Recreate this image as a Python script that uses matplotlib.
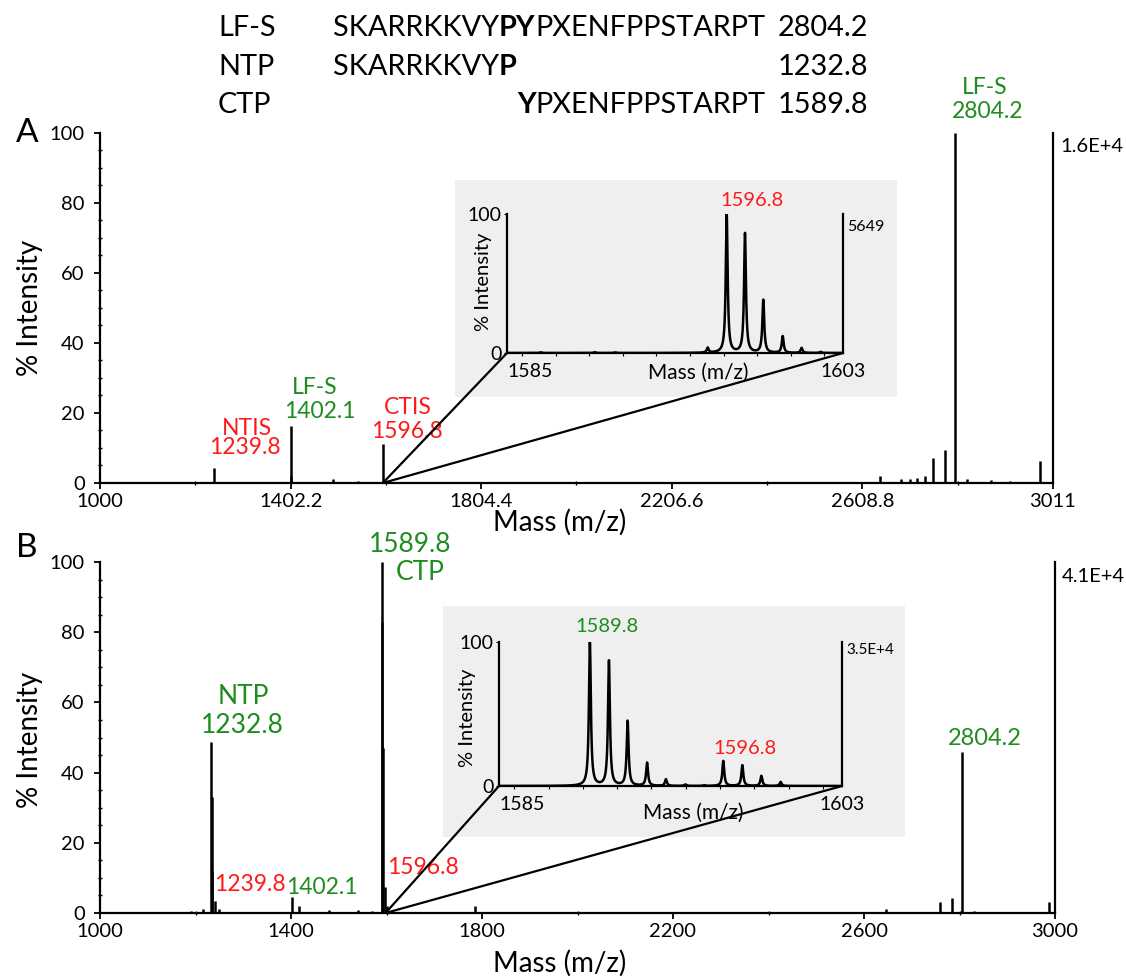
import numpy as np
import matplotlib
matplotlib.use("Agg")
import matplotlib.pyplot as plt
from matplotlib.patches import Rectangle, ConnectionPatch
from matplotlib.ticker import MultipleLocator, FixedLocator

plt.rcParams['font.family'] = ['Lato', 'DejaVu Sans']

# ---------------- data ----------------
# Panel A (main spectrum, stick peaks: m/z, % intensity)
a_mz = [1190, 1239.8, 1300, 1402.1, 1404, 1492, 1545, 1596.8, 1650, 1750, 1900,
        2100, 2300, 2500, 2646, 2690, 2710, 2725, 2741, 2758, 2784, 2804.2,
        2830, 2880, 2920, 2984]
a_int = [0.4, 4.4, 0.3, 16.4, 2.0, 1.0, 0.5, 11.0, 0.4, 0.4, 0.3,
         0.3, 0.3, 0.4, 2.0, 1.0, 1.2, 1.5, 2.0, 7.0, 9.4, 100,
         1.0, 0.8, 0.7, 6.4]
a_xticks = [1000, 1402.2, 1804.4, 2206.6, 2608.8, 3011]
a_xticklabels = ["1000", "1402.2", "1804.4", "2206.6", "2608.8", "3011"]

# Panel B
b_mz = [1190, 1216, 1232.8, 1233.8, 1234.8, 1239.8, 1250, 1300, 1402.1, 1416,
        1480, 1540, 1570, 1589.8, 1590.8, 1591.8, 1596.8, 1600, 1785, 2000,
        2400, 2646, 2759, 2785, 2804.2, 2830, 2987]
b_int = [0.5, 1.0, 48.7, 33.0, 12.0, 3.5, 1.0, 0.4, 4.5, 2.0,
         0.8, 0.8, 0.6, 100, 83, 47, 7.5, 2.0, 2.0, 0.3,
         0.3, 1.0, 3.0, 4.4, 45.8, 0.6, 3.0]
b_xticks = [1000, 1400, 1800, 2200, 2600, 3000]
b_xticklabels = ["1000", "1400", "1800", "2200", "2600", "3000"]

# Insets (isotope clusters)
ia_mz = [1586.8, 1589.7, 1590.8, 1595.75, 1596.77, 1597.75, 1598.73, 1599.77, 1600.78, 1601.8]
ia_int = [0.5, 0.6, 0.5, 3.6, 100, 86, 38, 12, 3.6, 0.8]
ib_mz = [1589.77, 1590.77, 1591.75, 1592.77, 1593.76, 1594.78, 1595.77, 1596.77,
         1597.77, 1598.77, 1599.78]
ib_int = [100, 86.8, 45, 16, 4.6, 1.0, 0.5, 17.4, 14.4, 7.0, 2.8]
inset_range = [1585, 1603]
zoom_from_a = 1596.8
zoom_from_b = 1598.0

GREEN = '#1e8c1e'
RED = '#ff1a1a'

W, H = 1126, 980
fig = plt.figure(figsize=(W / 100, H / 100), dpi=100)


def fx(px):
    return px / W


def fy(py):
    return 1 - py / H


def rect(l, t, r, b):
    return [fx(l), fy(b), fx(r) - fx(l), fy(t) - fy(b)]


def ftext(x, y, s, **kw):
    kw.setdefault('ha', 'center')
    kw.setdefault('va', 'center')
    return fig.text(fx(x), fy(y), s, **kw)


def style_main(ax, xlim, xticks, xticklabels, xminor):
    ax.set_xlim(*xlim)
    ax.set_ylim(0, 100)
    ax.spines['top'].set_visible(False)
    for s in ['left', 'bottom', 'right']:
        ax.spines[s].set_linewidth(1.6)
    ax.set_xticks(xticks)
    ax.set_xticklabels(xticklabels)
    ax.xaxis.set_minor_locator(FixedLocator(xminor))
    ax.set_yticks([0, 20, 40, 60, 80, 100])
    ax.yaxis.set_minor_locator(MultipleLocator(5))
    ax.tick_params(axis='x', which='major', direction='out', length=4, width=1.3,
                   labelsize=14.5, pad=3)
    ax.tick_params(axis='y', which='major', direction='out', length=4, width=1.3,
                   labelsize=14.5, pad=7)
    ax.tick_params(which='minor', direction='inout', length=3, width=1)


# ---------------- panel A ----------------
axA = fig.add_axes(rect(100, 133, 1053, 483))
axA.vlines(a_mz, 0, a_int, color='black', lw=1.8)
style_main(axA, (1000, 3011), a_xticks, a_xticklabels,
           np.arange(1000, 3012, 201.1))

# ---------------- panel B ----------------
axB = fig.add_axes(rect(100, 562, 1055, 913))
axB.vlines(b_mz, 0, b_int, color='black', lw=1.8)
style_main(axB, (1000, 3000), b_xticks, b_xticklabels,
           np.arange(1000, 3001, 200))


# ---------------- insets ----------------
def make_inset(box, axrect, mz, inten):
    bl, bt, br, bb = box
    fig.add_artist(Rectangle((fx(bl), fy(bb)), fx(br) - fx(bl), fy(bt) - fy(bb),
                             transform=fig.transFigure, facecolor='#efefef',
                             edgecolor='none', zorder=1))
    ax = fig.add_axes(rect(*axrect), zorder=3)
    ax.set_facecolor('none')
    grid = np.linspace(inset_range[0], inset_range[1], 4000)
    prof = np.zeros_like(grid)
    for c, h in zip(mz, inten):
        prof += h / (1 + ((grid - c) / 0.06) ** 2)
    ax.plot(grid, prof, color='black', lw=1.8)
    ax.set_xlim(*inset_range)
    ax.set_ylim(0, 100)
    ax.spines['top'].set_visible(False)
    for s in ['left', 'bottom', 'right']:
        ax.spines[s].set_linewidth(1.6)
    ax.set_xticks(inset_range)
    ax.set_xticklabels([str(v) for v in inset_range])
    ax.get_xticklabels()[0].set_ha('left')
    ax.xaxis.set_minor_locator(MultipleLocator(1.8))
    ax.set_yticks([0, 100])
    ax.set_yticklabels(['0', '100'])
    ax.tick_params(axis='x', which='major', length=0, labelsize=14, pad=7)
    ax.tick_params(axis='y', which='major', length=2, labelsize=14, pad=2)
    ax.tick_params(which='minor', length=2, width=0.8)
    return ax


axIA = make_inset((455, 180, 897, 397), (507, 214, 843, 353), ia_mz, ia_int)
axIB = make_inset((443, 606, 905, 837), (499, 642, 842, 786), ib_mz, ib_int)

for ax_main, x0, ax_in in [(axA, zoom_from_a, axIA), (axB, zoom_from_b, axIB)]:
    for xe in inset_range:
        con = ConnectionPatch(xyA=(x0, 0), coordsA=ax_main.transData,
                              xyB=(xe, 0), coordsB=ax_in.transData,
                              color='black', lw=1.6, zorder=4)
        fig.add_artist(con)

# ---------------- text labels ----------------
ftext(30, 308, '% Intensity', rotation=90, fontsize=20)
ftext(30, 740, '% Intensity', rotation=90, fontsize=20)
ftext(560, 522, 'Mass (m/z)', fontsize=20)
ftext(560, 963, 'Mass (m/z)', fontsize=20)
ftext(27, 133, 'A', fontsize=24)
ftext(27, 548, 'B', fontsize=24)

# panel A annotations
ftext(247, 428, 'NTIS', color=RED, fontsize=16.5)
ftext(245, 448, '1239.8', color=RED, fontsize=16.5)
ftext(315, 388, 'LF-S', color=GREEN, fontsize=16.5)
ftext(320, 412, '1402.1', color=GREEN, fontsize=16.5)
ftext(408, 407, 'CTIS', color=RED, fontsize=16.5)
ftext(407, 432, '1596.8', color=RED, fontsize=16.5)
ftext(985, 87, 'LF-S', color=GREEN, fontsize=16.5)
ftext(988, 112, '2804.2', color=GREEN, fontsize=16.5)
ftext(1060, 147, '1.6E+4', ha='left', fontsize=14.5)

# panel B annotations
ftext(243, 697, 'NTP', color=GREEN, fontsize=19)
ftext(242, 725, '1232.8', color=GREEN, fontsize=19)
ftext(250, 884, '1239.8', color=RED, fontsize=16.5)
ftext(322, 887, '1402.1', color=GREEN, fontsize=16.5)
ftext(410, 545, '1589.8', color=GREEN, fontsize=19)
ftext(420, 573, 'CTP', color=GREEN, fontsize=19)
ftext(423, 867, '1596.8', color=RED, fontsize=16.5)
ftext(985, 738, '2804.2', color=GREEN, fontsize=17)
ftext(1062, 577, '4.1E+4', ha='left', fontsize=14.5)

# inset A texts
ftext(752, 201, '1596.8', color=RED, fontsize=14.5)
ftext(847, 227, '5649', ha='left', fontsize=11.5)
ftext(698, 373, 'Mass (m/z)', fontsize=15)
ftext(483, 282, '% Intensity', rotation=90, fontsize=14.5)

# inset B texts
ftext(607, 627, '1589.8', color=GREEN, fontsize=14.5)
ftext(745, 749, '1596.8', color=RED, fontsize=14.5)
ftext(846, 650, '3.5E+4', ha='left', fontsize=11)
ftext(693, 813, 'Mass (m/z)', fontsize=15)
ftext(467, 718, '% Intensity', rotation=90, fontsize=14.5)

# ---------------- sequence header ----------------
names = ['LF-S', 'NTP', 'CTP']
masses = ['2804.2', '1232.8', '1589.8']
row_base = [36, 75, 113]
HFS = 20.8
for n, m, yb in zip(names, masses, row_base):
    ftext(218, yb, n, ha='left', va='baseline', fontsize=HFS)
    ftext(778, yb, m, ha='left', va='baseline', fontsize=HFS)

renderer = fig.canvas.get_renderer()


def chain(x_px, yb, parts):
    """place text parts left to right starting at pixel x"""
    for s, w in parts:
        t = ftext(x_px, yb, s, ha='left', va='baseline', fontsize=HFS, fontweight=w)
        x_px = t.get_window_extent(renderer).x1
    return x_px


end1 = chain(333, row_base[0], [('SKARRKKVY', 'normal'), ('PY', 'bold'),
                                 ('PXENFPPSTARPT', 'normal')])
chain(333, row_base[1], [('SKARRKKVY', 'normal'), ('P', 'bold')])
t3 = ftext(end1, row_base[2], 'PXENFPPSTARPT', ha='right', va='baseline', fontsize=HFS)
x3 = t3.get_window_extent(renderer).x0
ftext(x3, row_base[2], 'Y', ha='right', va='baseline', fontsize=HFS, fontweight='bold')

fig.savefig('out.png', dpi=100)
